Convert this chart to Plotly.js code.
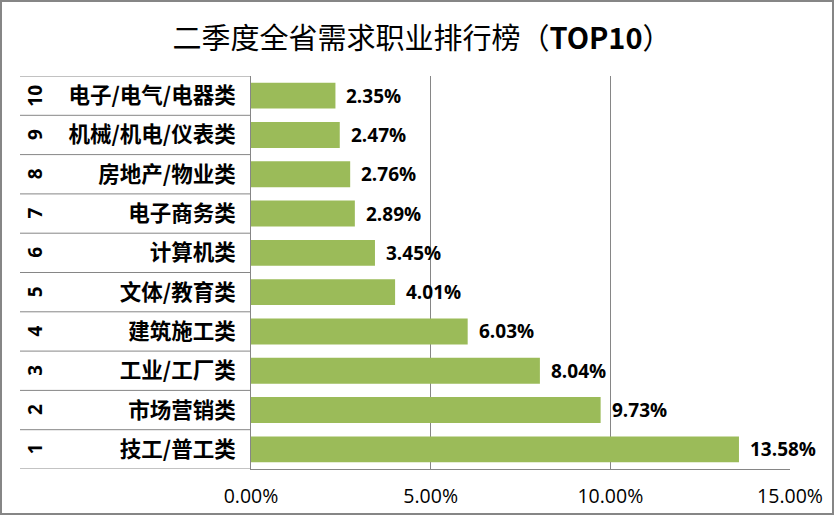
<!DOCTYPE html>
<html>
<head>
<meta charset="utf-8">
<script src="https://cdn.plot.ly/plotly-3.0.1.min.js"></script>
<style>
  html, body { margin: 0; padding: 0; background: #fff; }
  #wrap { position: relative; width: 834px; height: 515px; }
  #chart { width: 834px; height: 515px; }
  #frame { position: absolute; left: 0; top: 0; width: 834px; height: 515px; box-sizing: border-box; border: 2px solid #868686; pointer-events: none; }
</style>
</head>
<body>
<div id="wrap"><div id="chart"></div><div id="frame"></div></div>
<script>
// Data (rank 1 at bottom)
const ranks = ["1", "2", "3", "4", "5", "6", "7", "8", "9", "10"];
const categories = ["技工/普工类", "市场营销类", "工业/工厂类", "建筑施工类", "文体/教育类", "计算机类", "电子商务类", "房地产/物业类", "机械/机电/仪表类", "电子/电气/电器类"];
const values = [13.58, 9.73, 8.04, 6.03, 4.01, 3.45, 2.89, 2.76, 2.47, 2.35];
const xTicks = [0, 5, 10, 15];

const gray = "#868686";
const cjk = "'Noto Sans CJK SC', 'Noto Sans', sans-serif";
const latin = "'Open Sans', 'Noto Sans', sans-serif";

const trace = {
  type: "bar",
  orientation: "h",
  y: categories,
  x: values,
  marker: { color: "#9BBB59", line: { width: 0 } },
  hoverinfo: "skip",
  cliponaxis: false
};

const shapes = [];
// left table horizontal lines at category boundaries
for (let i = 0; i <= categories.length; i++) {
  shapes.push({
    type: "line", xref: "paper", yref: "y",
    x0: (20 - 251) / 539, x1: 0,
    y0: i - 0.5, y1: i - 0.5,
    line: { color: gray, width: 1 }
  });
}

const annotations = [];
// data labels
values.forEach((v, i) => {
  annotations.push({
    x: v, y: categories[i], xref: "x", yref: "y",
    text: v.toFixed(2) + "%",
    showarrow: false, xanchor: "left", xshift: 9,
    font: { family: latin, size: 19, color: "#000", weight: "bold" }
  });
});
// rank numbers (rotated)
ranks.forEach((r, i) => {
  annotations.push({
    x: (35 - 251) / 539, y: categories[i], xref: "paper", yref: "y",
    text: "<b>" + r + "</b>",
    textangle: -90,
    showarrow: false, xanchor: "center", yanchor: "middle",
    font: { family: latin, size: 19, color: "#000" }
  });
});

const layout = {
  width: 834, height: 515,
  margin: { l: 251, r: 44, t: 76, b: 46, pad: 0 },
  paper_bgcolor: "#fff", plot_bgcolor: "#fff",
  title: {
    text: "二季度全省需求职业排行榜（<b>TOP10</b>）",
    font: { family: cjk, size: 29, color: "#000" },
    x: 0.506, xanchor: "center", y: 0.925, yanchor: "middle"
  },
  bargap: 0.34,
  showlegend: false,
  xaxis: {
    range: [0, 15], tickvals: xTicks,
    ticktext: xTicks.map(t => t.toFixed(2) + "%"),
    showgrid: true, gridcolor: gray, gridwidth: 1,
    showline: true, linecolor: gray, linewidth: 1,
    zeroline: false, ticks: "", ticklabelstandoff: 10,
    tickfont: { family: latin, size: 19.5, color: "#000" },
    fixedrange: true
  },
  yaxis: {
    type: "category", categoryorder: "array", categoryarray: categories,
    range: [-0.5, 9.5],
    showgrid: false, zeroline: false,
    showline: true, linecolor: gray, linewidth: 1,
    ticks: "", ticklabelstandoff: 10,
    tickfont: { family: cjk, size: 21.5, color: "#000", weight: "bold" },
    fixedrange: true
  },
  shapes: shapes,
  annotations: annotations
};

Plotly.newPlot("chart", [trace], layout, { staticPlot: true, displayModeBar: false });
</script>
</body>
</html>
